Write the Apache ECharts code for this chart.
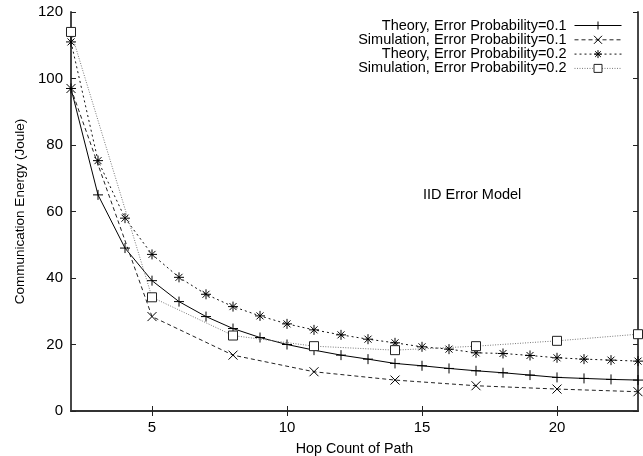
<!DOCTYPE html>
<html>
<head>
<meta charset="utf-8">
<script src="https://cdn.jsdelivr.net/npm/echarts@6/dist/echarts.min.js"></script>
<style>
    html, body { margin: 0; padding: 0; background: #fff; }
    #chart { width: 643px; height: 456px; }
</style>
</head>
<body>
<div id="chart"></div>
<script>
    var hopTheory = [2, 3, 4, 5, 6, 7, 8, 9, 10, 11, 12, 13, 14, 15, 16, 17, 18, 19, 20, 21, 22, 23];
    var hopSim = [2, 5, 8, 11, 14, 17, 20, 23];
    var theory01 = [97, 65, 49, 39.2, 32.9, 28.4, 24.8, 22.1, 20.0, 18.3, 16.8, 15.6, 14.3, 13.6, 12.8, 12.1, 11.5, 10.8, 10.1, 9.8, 9.5, 9.3];
    var sim01 = [97, 28.4, 16.8, 11.8, 9.3, 7.6, 6.6, 5.8];
    var theory02 = [111, 75.3, 58, 47.1, 40.2, 35.1, 31.4, 28.6, 26.2, 24.4, 22.9, 21.6, 20.5, 19.3, 18.6, 17.5, 17.3, 16.7, 16.0, 15.6, 15.3, 15.0];
    var sim02 = [114, 34.2, 22.7, 19.5, 18.3, 19.5, 21.1, 23.1];
    var xTicks = [5, 10, 15, 20];
    var names = ['Theory, Error Probability=0.1', 'Simulation, Error Probability=0.1',
                 'Theory, Error Probability=0.2', 'Simulation, Error Probability=0.2'];

    function pairs(xs, ys) {
        return xs.map(function (x, i) { return [x, ys[i]]; });
    }

    var plusPath = 'path://M0,5L10,5M5,0L5,10';
    var crossPath = 'path://M0,0L10,10M10,0L0,10';
    var starPath = 'path://M0,5L10,5M5,0L5,10M1.5,1.5L8.5,8.5M8.5,1.5L1.5,8.5';
    var font = 'Liberation Sans';
    var frame = { color: '#333', width: 1.8 };

    var option = {
        animation: false,
        textStyle: { fontFamily: font },
        grid: { left: 71, right: 5, top: 12, bottom: 45, outerBoundsMode: 'none' },
        legend: {
            orient: 'vertical',
            right: 21,
            top: 18,
            padding: 0,
            align: 'right',
            itemWidth: 47,
            itemHeight: 10,
            itemGap: -0.7,
            lineStyle: { width: 1 },
            itemStyle: { borderWidth: 1 },
            textStyle: { fontSize: 14.5, lineHeight: 13.5, color: '#000', fontFamily: font, padding: [0, 3, 0, 0] },
            data: names
        },
        graphic: [{
            type: 'text',
            left: 423,
            top: 187,
            style: { text: 'IID Error Model', fontSize: 14.5, fill: '#000', fontFamily: font }
        }],
        xAxis: [{
            type: 'value', min: 2, max: 23,
            name: 'Hop Count of Path', nameLocation: 'middle', nameGap: 31,
            nameTextStyle: { fontSize: 14.3, color: '#000' },
            axisLine: { lineStyle: frame },
            axisTick: { inside: true, length: 5, customValues: xTicks, lineStyle: { color: '#222' } },
            axisLabel: { customValues: xTicks, fontSize: 15, color: '#000', margin: 9 },
            splitLine: { show: false }
        }, {
            type: 'value', min: 2, max: 23, position: 'top',
            axisLine: { lineStyle: frame },
            axisTick: { inside: true, length: 5, customValues: xTicks, lineStyle: { color: '#222' } },
            axisLabel: { show: false },
            splitLine: { show: false }
        }],
        yAxis: [{
            type: 'value', min: 0, max: 120, interval: 20,
            name: 'Communication Energy (Joule)', nameLocation: 'middle', nameGap: 43,
            nameTextStyle: { fontSize: 13.5, color: '#000' },
            axisLine: { show: true, lineStyle: frame },
            axisTick: { show: true, inside: true, length: 5, lineStyle: { color: '#222' } },
            axisLabel: { fontSize: 15, color: '#000', margin: 8 },
            splitLine: { show: false }
        }, {
            type: 'value', min: 0, max: 120, interval: 20, position: 'right',
            axisLine: { show: true, lineStyle: frame },
            axisTick: { show: true, inside: true, length: 5, lineStyle: { color: '#222' } },
            axisLabel: { show: false },
            splitLine: { show: false }
        }],
        series: [{
            name: names[0], type: 'line', data: pairs(hopTheory, theory01),
            symbol: plusPath, symbolSize: 10,
            lineStyle: { color: '#000', width: 1, type: 'solid' },
            itemStyle: { color: '#000', borderColor: '#000', borderWidth: 1 }
        }, {
            name: names[1], type: 'line', data: pairs(hopSim, sim01),
            symbol: crossPath, symbolSize: 9,
            lineStyle: { color: '#222', width: 1, type: [4, 3] },
            itemStyle: { color: '#000', borderColor: '#000', borderWidth: 1 }
        }, {
            name: names[2], type: 'line', data: pairs(hopTheory, theory02),
            symbol: starPath, symbolSize: 10,
            lineStyle: { color: '#111', width: 1, type: [2, 3] },
            itemStyle: { color: '#000', borderColor: '#000', borderWidth: 1 }
        }, {
            name: names[3], type: 'line', data: pairs(hopSim, sim02),
            symbol: 'rect', symbolSize: 9,
            lineStyle: { color: '#777', width: 1, type: [1, 1.5] },
            itemStyle: { color: '#fff', borderColor: '#222', borderWidth: 1 }
        }]
    };

    var myecharts = echarts.init(document.getElementById('chart'));
    myecharts.setOption(option);
</script>
</body>
</html>
